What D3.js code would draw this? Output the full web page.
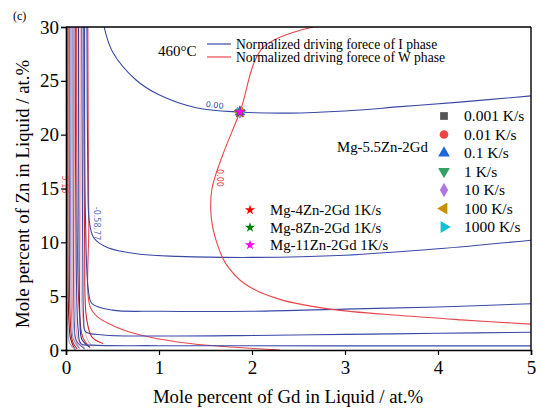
<!DOCTYPE html>
<html><head><meta charset="utf-8">
<script src="https://cdn.jsdelivr.net/npm/d3@7"></script>
<style>body{margin:0;background:#fff}svg{display:block;font-family:"Liberation Serif","Times New Roman",serif}</style>
</head><body><svg id="c" width="541" height="410"></svg>
<script>
// ---------- data ----------
const xTicks = [0,1,2,3,4,5];
const yTicks = [0,5,10,15,20,25,30];
// I phase (blue) normalized driving force contours: [Gd, Zn]
const iMain = [[0.41,30],[0.5,27.7],[0.75,25.1],[1.0,23.7],[1.4,22.5],[1.87,22.1],[2.4,22.0],[3.0,22.2],[3.6,22.6],[4.2,23.0],[5.0,23.6]];
const iC9 = [[0.225,30],[0.235,16],[0.25,12],[0.3,10.4],[0.45,9.5],[0.8,8.9],[1.2,8.7],[2.0,8.6],[3.0,8.8],[4.0,9.4],[5.0,10.2]];
const iC4 = [[0.2,30],[0.21,12],[0.24,5.6],[0.28,4.3],[0.5,3.7],[1.0,3.6],[2.0,3.6],[3.0,3.8],[4.0,4.0],[5.0,4.3]];
const iC15 = [[0.17,30],[0.18,9],[0.19,3],[0.21,1.7],[0.4,1.4],[1.0,1.3],[2.0,1.35],[3.0,1.45],[4.0,1.55],[5.0,1.65]];
const iC03 = [[0.1,30],[0.11,8],[0.13,2],[0.16,0.6],[0.3,0.45],[1,0.4],[5,0.38]];
const iBand = [
  [[0.045,30],[0.05,10],[0.06,3],[0.08,1],[0.14,0.2]],
  [[0.135,30],[0.14,10],[0.15,3],[0.17,1.0],[0.25,0.3]],
  [[0.075,30],[0.08,9],[0.09,2.5],[0.11,0.9],[0.2,0.1]],
  [[0.01,30],[0.012,8],[0.02,2],[0.04,0.6],[0.1,0.05]]
];
// W phase (red) contours
const wMain = [[2.66,30],[2.12,28.1],[1.87,22.1],[1.68,18],[1.57,15],[1.56,12.5],[1.62,10],[1.72,8],[1.93,6.1],[2.3,4.7],[2.84,3.8],[3.6,3.2],[4.25,2.8],[5.0,2.4]];
const wLow = [[0.235,30],[0.245,12],[0.26,4.0],[0.35,3.0],[0.55,2.1],[0.8,1.4],[1.2,0.75],[1.7,0.32],[2.3,0]];
const wBand = [
  [[0.02,30],[0.02,10],[0.03,3],[0.05,1],[0.1,0]],
  [[0.06,30],[0.065,10],[0.075,3],[0.1,1],[0.15,0.1]],
  [[0.115,30],[0.12,12],[0.14,4],[0.18,1.2],[0.26,0.2]],
  [[0.155,30],[0.16,10],[0.18,3],[0.24,0.8],[0.3,0.3]],
  [[0.19,30],[0.2,10],[0.22,3.0],[0.28,1.2],[0.4,0.6]],
  [[0.09,30],[0.095,10],[0.105,3],[0.13,1],[0.2,0.2]],
  [[0.035,30],[0.036,10],[0.045,3],[0.07,0.8],[0.12,0.1]]
];
const wBandColors = ["#8b1010","#f29a9a","#e03030","#f7b5b5","#d62828","#f6a8a8","#c02020"];
const iBandColors = ["#8a94d4","#2a3590","#5662b8","#9aa2d8"];
// simulated cooling-rate points (all at the same composition)
const point = [1.87, 22.1];
const rateLabels = ["0.001 K/s","0.01 K/s","0.1 K/s","1 K/s","10 K/s","100 K/s","1000 K/s"];
const rateColors = ["#555555","#ee4444","#2266dd","#33a066","#b077e0","#c99000","#15c0d0"];
const rateShapes = ["square","circle","up","down","diamond","left","right"];
const alloyLabels = ["Mg-4Zn-2Gd 1K/s","Mg-8Zn-2Gd 1K/s","Mg-11Zn-2Gd 1K/s"];
const alloyColors = ["#ff0000","#008000","#ff00ff"];

// ---------- layout ----------
const svg = d3.select("#c");
const x = d3.scaleLinear([0,5],[66,531]);
const y = d3.scaleLinear([0,30],[350,27]);
const blue = "#3a48a6", red = "#e8474a";

svg.append("defs").append("clipPath").attr("id","clip")
  .append("rect").attr("x",66).attr("y",27).attr("width",465).attr("height",323);
const plot = svg.append("g").attr("clip-path","url(#clip)");
const line = d3.line().x(d=>x(d[0])).y(d=>y(d[1])).curve(d3.curveCatmullRom.alpha(0.5));

function path(data,color,w){ plot.append("path").attr("d",line(data)).attr("fill","none").attr("stroke",color).attr("stroke-width",w||1); }
wBand.forEach((d,i)=>path(d,wBandColors[i],1.1));
iBand.forEach((d,i)=>path(d,iBandColors[i],1.1));
path(wLow,red,1.1);
[iC03,iC15,iC4,iC9].forEach(d=>path(d,blue,1.1));
path(iMain,blue,1.1);
path(wMain,red,1.1);

// contour labels
svg.append("text").attr("transform",`translate(${x(1.5)},${y(22.6)}) rotate(7)`)
  .attr("font-size",8).attr("fill",blue).attr("font-family","DejaVu Sans").text("0.00");
svg.append("text").attr("transform",`translate(${x(1.62)},${y(16.8)}) rotate(90)`)
  .attr("font-size",8).attr("fill",red).attr("font-family","DejaVu Sans").text("0.00");
svg.append("text").attr("transform",`translate(${x(-0.04)},${y(16.2)}) rotate(90)`)
  .attr("font-size",8).attr("fill","#f05050").attr("font-family","DejaVu Sans").text("5.16");
svg.append("text").attr("transform",`translate(${x(0.3)},${y(13.3)}) rotate(90)`)
  .attr("font-size",8).attr("fill","#6070c0").attr("font-family","DejaVu Sans").text("-0.58.77");

// ---------- markers ----------
function sym(shape,size){
  const m = {square:d3.symbolSquare,circle:d3.symbolCircle,diamond:d3.symbolDiamond,up:d3.symbolTriangle,down:d3.symbolTriangle,left:d3.symbolTriangle,right:d3.symbolTriangle};
  return d3.symbol().type(m[shape]).size(size)();
}
const rot = {square:0,circle:0,diamond:0,up:0,down:180,left:-90,right:90};
const mk = svg.append("g");
rateShapes.forEach((s,i)=>{
  mk.append("path").attr("d",sym(s,50)).attr("fill",rateColors[i])
    .attr("transform",`translate(${x(point[0])},${y(point[1])}) rotate(${rot[s]})`);
});
alloyColors.forEach((c,i)=>{
  mk.append("path").attr("d",d3.symbol().type(d3.symbolStar).size(50-i*8)()).attr("fill",c)
    .attr("transform",`translate(${x(point[0])},${y(point[1])})`);
});

// ---------- axes ----------
const ax = svg.append("g").attr("transform","translate(0,350)")
  .call(d3.axisBottom(x).tickValues(xTicks).tickFormat(d3.format("d")).tickSize(5).tickPadding(6));
const ay = svg.append("g").attr("transform","translate(66,0)")
  .call(d3.axisLeft(y).tickValues(yTicks).tickFormat(d3.format("d")).tickSize(5).tickPadding(2));
[ax,ay].forEach(a=>{
  a.selectAll("text").attr("font-size",19).attr("font-family","Liberation Serif").attr("fill","#000");
  a.select(".domain").attr("stroke","#000").attr("stroke-width",1.6);
  a.selectAll(".tick line").attr("stroke","#000").attr("stroke-width",1.2);
});
svg.append("line").attr("x1",66).attr("x2",531).attr("y1",27).attr("y2",27).attr("stroke","#000").attr("stroke-width",1.4);
svg.append("line").attr("x1",531).attr("x2",531).attr("y1",27).attr("y2",350).attr("stroke","#000").attr("stroke-width",1.4);

svg.append("text").attr("x",288).attr("y",403).attr("text-anchor","middle").attr("font-size",18.8)
  .text("Mole percent of Gd in Liquid / at.%");
svg.append("text").attr("transform","translate(29,194) rotate(-90)").attr("text-anchor","middle").attr("font-size",18.8)
  .text("Mole percent of Zn in Liquid / at.%");
svg.append("text").attr("x",13).attr("y",20).attr("font-size",12).text("(c)");

// ---------- legends ----------
svg.append("text").attr("x",158).attr("y",56).attr("font-size",15).text("460°C");
const topLeg = [{c:blue,t:"Normalized driving forece of I phase"},{c:red,t:"Normalized driving forece of W phase"}];
topLeg.forEach((d,i)=>{
  svg.append("line").attr("x1",207).attr("x2",231).attr("y1",44+i*13).attr("y2",44+i*13).attr("stroke",d.c).attr("stroke-width",1.2);
  svg.append("text").attr("x",236).attr("y",48.5+i*13.5).attr("font-size",13.6).text(d.t);
});
svg.append("text").attr("x",337).attr("y",152).attr("font-size",14.8).text("Mg-5.5Zn-2Gd");
rateLabels.forEach((t,i)=>{
  const yy = 116 + i*18.5;
  svg.append("path").attr("d",sym(rateShapes[i],60)).attr("fill",rateColors[i])
    .attr("transform",`translate(444,${yy}) rotate(${rot[rateShapes[i]]})`);
  svg.append("text").attr("x",464).attr("y",yy+5).attr("font-size",15.5).text(t);
});
alloyLabels.forEach((t,i)=>{
  const yy = 210 + i*17.5;
  svg.append("path").attr("d",d3.symbol().type(d3.symbolStar).size(32)()).attr("fill",alloyColors[i])
    .attr("transform",`translate(250,${yy})`);
  svg.append("text").attr("x",270).attr("y",yy+5).attr("font-size",14.8).text(t);
});
</script></body></html>
